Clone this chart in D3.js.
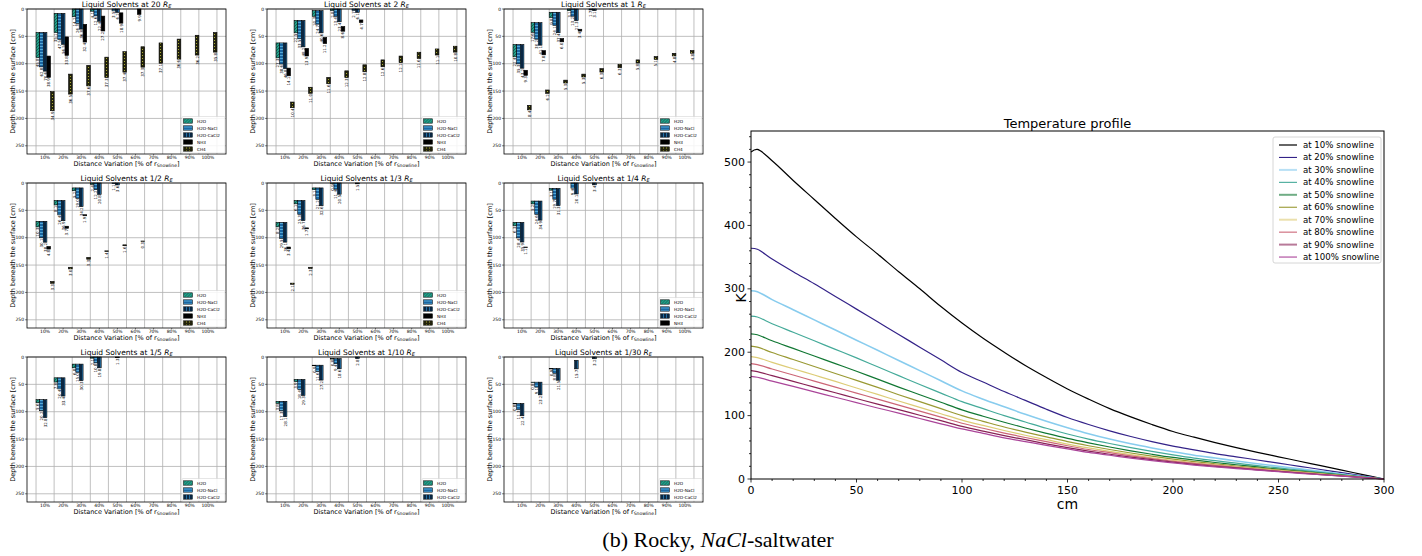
<!DOCTYPE html>
<html><head><meta charset="utf-8">
<script src="https://cdn.jsdelivr.net/npm/d3@7"></script>
<style>body{margin:0;background:#fff}svg{display:block}text{font-family:"DejaVu Sans",sans-serif;fill:#000}</style>
</head><body><svg id="c" width="1422" height="556"></svg>
<script>
// ---------- small panels data: [top depth cm, thickness cm] per distance category ----------
const distLabels = ["10%","20%","30%","40%","50%","60%","70%","80%","90%","100%"];
const solventNames = ["H2O","H2O-NaCl","H2O-CaCl2","NH3","CH4"];
const depthTicks = [0,50,100,150,200,250];
const panelTitles = ["20","2","1","1/2","1/3","1/4","1/5","1/10","1/30"];
const legendCounts = [5,5,5,5,5,4,3,3,3];
const _ = null;

const R20_H2O   = [[43,45.8],[8,35.1],[0,14.2],[0,4.1],_,_,_,_,_,_];
const R20_NACL  = [[43,62.8],[8,47.5],[0,26.3],[0,12.6],[0,3.5],_,_,_,_,_];
const R20_CACL2 = [[43,70.6],[8,56.5],[0,36.8],[0,22.4],[0,6.2],_,_,_,_,_];
const R20_NH3   = [[86,38.9],[51,33.8],[28,32.4],[13,27.2],[7,18.9],[0,9.9],_,_,_,_];
const R20_CH4   = [[151,34.9],[119,36.5],[103,37.6],[88,37.3],[78,37.4],[69,37.3],[62,37.1],[55,36.6],[48,36.2],[43,35.8]];

const R2_H2O    = [[62,27.3],[21,22.5],[3,10.3],[0,2.8],_,_,_,_,_,_];
const R2_NACL   = [[62,38.6],[21,33.5],[3,24.7],[0,13.4],[0,2.7],_,_,_,_,_];
const R2_CACL2  = [[62,46.8],[21,48.2],[3,40.6],[0,23.4],[0,6.1],_,_,_,_,_];
const R2_NH3    = [[108,14.1],[72,13.9],[52,11.2],[32,8.6],[20,4.7],_,_,_,_,_];
const R2_CH4    = [[170,10.4],[143,11.0],[125,11.6],[113,12.3],[102,12.8],[93,12.6],[86,12.1],[79,11.6],[73,11.1],[68,10.8]];

const R1_H2O    = [[65,22.4],[25,17.6],[6,9.8],[0,3.1],_,_,_,_,_,_];
const R1_NACL   = [[65,35.3],[25,30.2],[6,24.1],[0,13.2],[0,1.7],_,_,_,_,_];
const R1_CACL2  = [[65,43.2],[25,41.1],[6,37.4],[0,21.3],[0,3.1],_,_,_,_,_];
const R1_NH3    = [[112,9.3],[76,7.8],[54,6.0],[37,3.4],_,_,_,_,_,_];
const R1_CH4    = [[176,8.4],[148,6.2],[130,5.3],[119,5.3],[109,6.3],[101,6.3],[93,5.8],[87,5.1],[81,4.8],[76,4.8]];

const RH_H2O    = [[70,10.3],[32,8.1],[9,5.2],[0,2.4],_,_,_,_,_,_];
const RH_NACL   = [[70,30.1],[32,26.4],[9,19.0],[0,12.2],[0,1.1],_,_,_,_,_];
const RH_CACL2  = [[70,38.2],[32,36.9],[9,34.2],[0,20.8],[0,3.6],_,_,_,_,_];
const RH_NH3    = [[116,4.8],[79,3.7],[58,1.9],_,_,_,_,_,_,_];
const RH_CH4    = [[180,3.3],[154,3.0],[136,3.3],[124,1.4],[113,1.6],[106,0.3],_,_,_,_];

const R3_H2O    = [[72,8.2],[32,6.1],[9,3.1],[0,0.9],_,_,_,_,_,_];
const R3_NACL   = [[72,29.5],[32,25.3],[9,21.2],[0,11.4],_,_,_,_,_,_];
const R3_CACL2  = [[72,36.1],[32,36.7],[9,32.6],[0,20.5],[0,1.5],_,_,_,_,_];
const R3_NH3    = [[117,3.4],[82,1.7],_,_,_,_,_,_,_,_];
const R3_CH4    = [[183,2.1],[154,2.3],_,_,_,_,_,_,_,_];

const R4_H2O    = [[72,6.3],[33,5.2],[10,3.1],_,_,_,_,_,_,_];
const R4_NACL   = [[72,28.4],[33,24.6],[10,19.7],[0,9.4],_,_,_,_,_,_];
const R4_CACL2  = [[72,35.9],[33,34.9],[10,31.3],[0,20.1],[0,3.4],_,_,_,_,_];
const R4_NH3    = [[117,1.1],_,_,_,_,_,_,_,_,_];
const R4_CH4    = [_,_,_,_,_,_,_,_,_,_];

const R5_H2O    = [[78,5.6],[38,7.8],[13,6.8],[0,2.1],_,_,_,_,_,_];
const R5_NACL   = [[78,20.2],[38,20.4],[13,15.0],[0,10.8],_,_,_,_,_,_];
const R5_CACL2  = [[78,32.8],[38,33.4],[13,30.3],[0,19.8],[0,1.3],_,_,_,_,_];

const R10_H2O   = [[81,3.8],[41,3.9],[15,0.9],[3,0.8],_,_,_,_,_,_];
const R10_NACL  = [[81,17.3],[41,18.4],[15,11.6],[3,9.4],_,_,_,_,_,_];
const R10_CACL2 = [[81,28.1],[41,29.3],[15,27.2],[3,18.6],[0,2.8],_,_,_,_,_];

const R30_H2O   = [[85,0.8],[46,0.8],[21,0.9],_,_,_,_,_,_,_];
const R30_NACL  = [[85,11.3],[46,9.1],[21,8.8],_,_,_,_,_,_,_];
const R30_CACL2 = [[85,22.4],[46,23.2],[21,21.5],[6,15.7],[0,3.2],_,_,_,_,_];

// ---------- temperature profile data ----------
const depthCm = [0,3,10,20,30,40,50,60,70,80,90,100,110,120,130,140,150,160,170,180,190,200,210,220,230,240,250,260,270,280,290,300];
const T10  = [516,520,502,471,441,411,382,355,327,300,272,246,222,200,179,160,142,126,111,98,86,75,66,57.5,49.5,42,35,28,21,14,7,0];
const T20  = [364,362.5,347,327,308,288,268,248,228,208,188,168,153,138,124,110,97,86,76,67,59,52,46,40,35,30,25,20,15,10,5,0];
const T30  = [297,295.5,283,267,251,235,219,203,187,171,155,139,126,114,102,91,81,71.5,63,55.5,49,43,37.5,33,28.5,24,20,16,12,8,4,0];
const T40  = [257,255.5,245,231.5,218,204.5,191,177,163,149,135.5,122,111,100,90,80,71,63,56,49.5,43.5,38,33,29,25,21,17.5,14,10.5,7,3.5,0];
const T50  = [229,227.5,218,206,194,182,170,157.5,145,133,121,109,99,89.5,80.5,72,64,57,50.5,44.5,39,34,30,26,22.5,19,15.5,12.5,9.5,6.2,3.1,0];
const T60  = [209.5,208,199.5,188.5,177.5,166.5,155.5,144.5,133,122,111,100,91,82,74,66.5,59,52.5,46.5,41,36,31.5,27.5,24,20.5,17.5,14.5,11.5,8.6,5.7,2.8,0];
const T70  = [193,191.5,184,174,164,154,143.5,133.5,123,113,103,93,84.5,76.5,69,62,55,49,43.5,38.5,33.5,29.5,25.5,22.5,19,16,13.5,10.7,8,5.3,2.6,0];
const T80  = [182,180.5,173.5,164,154.5,145,135.5,126,116.5,107,97.5,88,80,72.5,65.5,59,52.5,46.5,41.5,36.5,32,28,24.5,21.5,18.5,15.5,12.5,10,7.5,5,2.5,0];
const T90  = [171,169.5,163,154,145,136,127,118,109.5,100.5,92,83,75.5,68.5,62,55.5,49.5,44,39,34.5,30.5,26.5,23,20,17.5,14.5,12,9.5,7,4.7,2.3,0];
const T100 = [162,160.5,154.5,146,137.5,129,120.5,112,104,95.5,87,79,72,65,59,53,47.5,42,37.5,33,29,25.5,22,19,16.5,14,11.5,9,6.7,4.4,2.2,0];
const profileNames = ["at 10% snowline","at 20% snowline","at 30% snowline","at 40% snowline","at 50% snowline","at 60% snowline","at 70% snowline","at 80% snowline","at 90% snowline","at 100% snowline"];
const kTicks = [0,100,200,300,400,500];
const cmTicks = [0,50,100,150,200,250,300];

// ---------- assemble ----------
const panelSeries = [
  [R20_H2O,R20_NACL,R20_CACL2,R20_NH3,R20_CH4],
  [R2_H2O,R2_NACL,R2_CACL2,R2_NH3,R2_CH4],
  [R1_H2O,R1_NACL,R1_CACL2,R1_NH3,R1_CH4],
  [RH_H2O,RH_NACL,RH_CACL2,RH_NH3,RH_CH4],
  [R3_H2O,R3_NACL,R3_CACL2,R3_NH3,R3_CH4],
  [R4_H2O,R4_NACL,R4_CACL2,R4_NH3,R4_CH4],
  [R5_H2O,R5_NACL,R5_CACL2],
  [R10_H2O,R10_NACL,R10_CACL2],
  [R30_H2O,R30_NACL,R30_CACL2]
];
const profiles = [T10,T20,T30,T40,T50,T60,T70,T80,T90,T100];

const svg = d3.select("#c");
const defs = svg.append("defs");
function pat(id,bg,draw){
  const p = defs.append("pattern").attr("id",id).attr("patternUnits","userSpaceOnUse").attr("width",3).attr("height",3);
  p.append("rect").attr("width",3).attr("height",3).attr("fill",bg);
  draw(p);
}
pat("pH2O","#23a08a",p=>p.append("path").attr("d","M-1,1 L1,-1 M0,3 L3,0 M2,4 L4,2").attr("stroke","#0b4038").attr("stroke-width",0.6));
pat("pNaCl","#1b66a2",p=>p.append("path").attr("d","M0,1.5 H3").attr("stroke","#6cc6ee").attr("stroke-width",0.7));
pat("pCaCl2","#0a2743",p=>p.append("path").attr("d","M1.5,0 V3").attr("stroke","#2f8ccc").attr("stroke-width",0.7));
pat("pCH4","#22220c",p=>p.append("circle").attr("cx",1.5).attr("cy",1.5).attr("r",0.55).attr("fill","#c2c23c"));
const fills = ["url(#pH2O)","url(#pNaCl)","url(#pCaCl2)","#000","url(#pCH4)"];

const colX = [27,267,504], rowY = [9,183,357], PW = 199, PH = 145;

panelTitles.forEach((title,i)=>{
  const L = colX[i%3], T = rowY[Math.floor(i/3)];
  const g = svg.append("g").attr("transform",`translate(${L},${T})`);
  const x = d3.scaleLinear().domain([-0.5,10.5]).range([0,PW]);
  const y = d3.scaleLinear().domain([0,265]).range([0,PH]);
  g.append("g").selectAll("line").data(d3.range(0,11)).join("line")
    .attr("x1",d=>x(d)).attr("x2",d=>x(d)).attr("y1",0).attr("y2",PH)
    .attr("stroke","#b0b0b0").attr("stroke-width",0.8);
  g.append("g").selectAll("line").data(depthTicks).join("line")
    .attr("x1",0).attr("x2",PW).attr("y1",d=>y(d)).attr("y2",d=>y(d))
    .attr("stroke","#b0b0b0").attr("stroke-width",0.8);
  const w = x(0.2)-x(0);
  const labels = [];
  panelSeries[i].forEach((ser,j)=>{
    ser.forEach((d,k)=>{
      if(!d) return;
      const x0 = x(k+0.2*j), y0 = y(d[0]), y1 = y(d[0]+d[1]);
      g.append("rect").attr("x",x0).attr("y",y0).attr("width",w).attr("height",Math.max(y1-y0,0.4))
        .attr("fill",fills[j]).attr("stroke","#000").attr("stroke-width",0.6);
      labels.push({cx:x0+w/2, yb:Math.max(y1,y0+0.4), t:d[1].toFixed(1)});
    });
  });
  g.append("g").selectAll("text").data(labels).join("text")
    .attr("transform",d=>`translate(${d.cx},${d.yb+0.8}) rotate(-90)`)
    .attr("text-anchor","end").attr("dominant-baseline","central")
    .style("font-size","4px").text(d=>d.t);
  g.append("rect").attr("width",PW).attr("height",PH).attr("fill","none").attr("stroke","#000").attr("stroke-width",0.8);
  const yt = g.append("g");
  depthTicks.forEach(v=>{
    yt.append("line").attr("x1",-2).attr("x2",0).attr("y1",y(v)).attr("y2",y(v)).attr("stroke","#000").attr("stroke-width",0.5);
    yt.append("text").attr("x",-3).attr("y",y(v)).attr("text-anchor","end").attr("dominant-baseline","central").style("font-size","4.5px").text(v);
  });
  distLabels.forEach((lab,k)=>{
    g.append("line").attr("x1",x(k+0.5)).attr("x2",x(k+0.5)).attr("y1",PH).attr("y2",PH+1.5).attr("stroke","#000").attr("stroke-width",0.5);
    g.append("text").attr("x",x(k+0.5)).attr("y",PH+5.2).attr("text-anchor","middle").style("font-size","4.5px").text(lab);
  });
  g.append("text").attr("transform",`translate(-14,${PH/2}) rotate(-90)`).attr("text-anchor","middle")
    .attr("dominant-baseline","central").style("font-size","6.5px").text("Depth beneath the surface [cm]");
  const xl = g.append("text").attr("x",PW/2).attr("y",PH+11.5).attr("text-anchor","middle").style("font-size","6.5px");
  xl.append("tspan").text("Distance Variation [% of r");
  xl.append("tspan").attr("dy",1.5).style("font-size","4.5px").text("Snowline");
  xl.append("tspan").attr("dy",-1.5).text("]");
  const tt = g.append("text").attr("x",PW/2).attr("y",-1.8).attr("text-anchor","middle").style("font-size","7.5px");
  tt.append("tspan").text(`Liquid Solvents at ${title} `);
  tt.append("tspan").style("font-style","italic").text("R");
  tt.append("tspan").attr("dy",1.2).style("font-size","5px").style("font-style","italic").text("E");
  const n = legendCounts[i], lh = 7, bw = 43, bh = n*lh+1.5;
  const lg = g.append("g").attr("transform",`translate(${PW-bw-1},${PH-bh-1})`);
  lg.append("rect").attr("width",bw).attr("height",bh).attr("rx",1).attr("fill","#fff").attr("fill-opacity",0.85)
    .attr("stroke","#ccc").attr("stroke-width",0.5);
  for(let j=0;j<n;j++){
    const cy = 1+j*lh+lh/2;
    lg.append("rect").attr("x",1.5).attr("y",cy-2.2).attr("width",9).attr("height",4.4).attr("fill",fills[j]).attr("stroke","#000").attr("stroke-width",0.5);
    lg.append("text").attr("x",15).attr("y",cy).attr("dominant-baseline","central").style("font-size","4.2px").text(solventNames[j]);
  }
});

// ---------- temperature profile ----------
const lineColors = ["#000000","#332288","#88CCEE","#44AA99","#117733","#999933","#DDCC77","#CC6677","#882255","#AA4499"];
const legendColors = ["#666666","#332288","#b8e0f5","#44AA99","#70ad85","#999933","#ebe0ad","#CC6677","#b87a99","#AA4499"];
const tx = d3.scaleLinear().domain([0,300]).range([751,1384]);
const ty = d3.scaleLinear().domain([0,549]).range([479,131]);
const tg = svg.append("g");
const line = d3.line().x((d,i)=>tx(depthCm[i])).y(d=>ty(d)).curve(d3.curveCatmullRom.alpha(0.5));
profiles.forEach((p,i)=>{
  tg.append("path").attr("d",line(p)).attr("fill","none").attr("stroke",lineColors[i])
    .attr("stroke-width",i===2?1.6:1.2);
});
tg.append("rect").attr("x",751).attr("y",131).attr("width",1384-751).attr("height",479-131)
  .attr("fill","none").attr("stroke","#000").attr("stroke-width",1);
d3.range(0,301,10).forEach(v=>{
  const maj = v%50===0;
  tg.append("line").attr("x1",tx(v)).attr("x2",tx(v)).attr("y1",479).attr("y2",479+(maj?3.5:2)).attr("stroke","#000").attr("stroke-width",0.8);
});
cmTicks.forEach(v=>tg.append("text").attr("x",tx(v)).attr("y",494).attr("text-anchor","middle").style("font-size","11px").text(v));
d3.range(0,541,20).forEach(v=>{
  const maj = v%100===0;
  tg.append("line").attr("x1",751-(maj?3.5:2)).attr("x2",751).attr("y1",ty(v)).attr("y2",ty(v)).attr("stroke","#000").attr("stroke-width",0.8);
});
kTicks.forEach(v=>tg.append("text").attr("x",745).attr("y",ty(v)).attr("text-anchor","end").attr("dominant-baseline","central").style("font-size","11px").text(v));
tg.append("text").attr("x",1067.5).attr("y",509).attr("text-anchor","middle").style("font-size","14px").text("cm");
tg.append("text").attr("transform","translate(741,298) rotate(-90)").attr("text-anchor","middle").attr("dominant-baseline","central").style("font-size","14px").text("K");
tg.append("text").attr("x",1067.5).attr("y",128).attr("text-anchor","middle").style("font-size","13px").text("Temperature profile");
const lg2 = tg.append("g").attr("transform","translate(1273,137)");
lg2.append("rect").attr("width",108).attr("height",126).attr("rx",2).attr("fill","#fff").attr("stroke","#ccc").attr("stroke-width",0.8);
profileNames.forEach((nm,i)=>{
  const yy = 8+i*12.45;
  lg2.append("line").attr("x1",6).attr("x2",24).attr("y1",yy).attr("y2",yy)
    .attr("stroke",legendColors[i]).attr("stroke-width",i%2===0?2:1.1);
  lg2.append("text").attr("x",30).attr("y",yy).attr("dominant-baseline","central").style("font-size","8.6px").text(nm);
});

// caption
const cap = svg.append("text").attr("x",718).attr("y",547).attr("text-anchor","middle")
  .style("font-family","'Liberation Serif','Times New Roman',serif").style("font-size","22px");
cap.append("tspan").style("font-family","'Liberation Serif',serif").text("(b) Rocky, ");
cap.append("tspan").style("font-family","'Liberation Serif',serif").style("font-style","italic").text("NaCl");
cap.append("tspan").style("font-family","'Liberation Serif',serif").text("-saltwater");
</script></body></html>
